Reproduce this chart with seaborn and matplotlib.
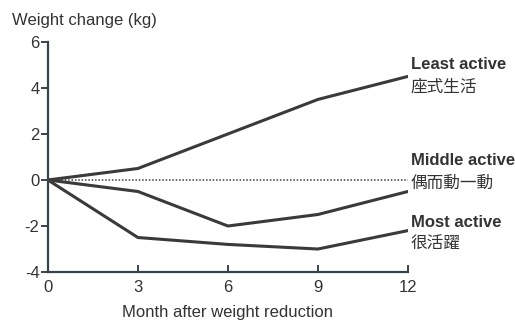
import pandas as pd
import seaborn as sns
import matplotlib.pyplot as plt

months = [0, 3, 6, 9, 12]
least_active = [0, 0.5, 2.0, 3.5, 4.5]
middle_active = [0, -0.5, -2.0, -1.5, -0.5]
most_active = [0, -2.5, -2.8, -3.0, -2.2]
group_en = ['Least active', 'Middle active', 'Most active']
group_zh = ['座式生活', '偶而動一動', '很活躍']

df = pd.DataFrame({
    'month': months * 3,
    'change': least_active + middle_active + most_active,
    'group': [g for g in group_en for _ in months],
})

sns.set_style('white')
plt.rcParams['font.family'] = ['Liberation Sans', 'Noto Sans CJK TC', 'DejaVu Sans']
plt.rcParams['axes.unicode_minus'] = False

fig = plt.figure(figsize=(5.15, 3.25), dpi=100)
ax = fig.add_axes([0.093, 0.163, 0.699, 0.708])

line_col = '#3a3a3a'
sns.lineplot(data=df, x='month', y='change', units='group', estimator=None,
             color=line_col, linewidth=2.2, ax=ax, legend=False)
ax.plot([0, 12], [0, 0], color=line_col, linestyle=(0, (1, 1.2)), linewidth=1.1)

ax.set_xlim(0, 12)
ax.set_ylim(-4, 6)
ax.set_xticks([0, 3, 6, 9, 12])
ax.set_yticks([-4, -2, 0, 2, 4, 6])
ax.set_xlabel('Month after weight reduction', fontsize=12, color='#333333', labelpad=7)
ax.set_ylabel('')
ax.text(-0.1, 1.06, 'Weight change (kg)', transform=ax.transAxes, fontsize=12,
        color='#333333', ha='left', va='bottom')

for side in ['top', 'right']:
    ax.spines[side].set_visible(False)
for side in ['left', 'bottom']:
    ax.spines[side].set_color('#3a4448')
    ax.spines[side].set_linewidth(1.6)
ax.tick_params(axis='y', direction='out', length=5, width=1.4, color='#3a4448',
               labelsize=12, labelcolor='#333333', pad=1, left=True)
ax.tick_params(axis='x', direction='in', length=5, width=1.4, color='#3a4448',
               labelsize=12, labelcolor='#333333', pad=6, bottom=True)

label_y = [(5.0, 4.05), (0.85, -0.15), (-1.85, -2.75)]
for en, zh, (y1, y2) in zip(group_en, group_zh, label_y):
    ax.text(12.1, y1, en, fontsize=12, fontweight='bold', color='#333333',
            ha='left', va='center', clip_on=False)
    ax.text(12.1, y2, zh, fontsize=12, color='#333333',
            ha='left', va='center', clip_on=False)

fig.savefig('out.png', dpi=100)
